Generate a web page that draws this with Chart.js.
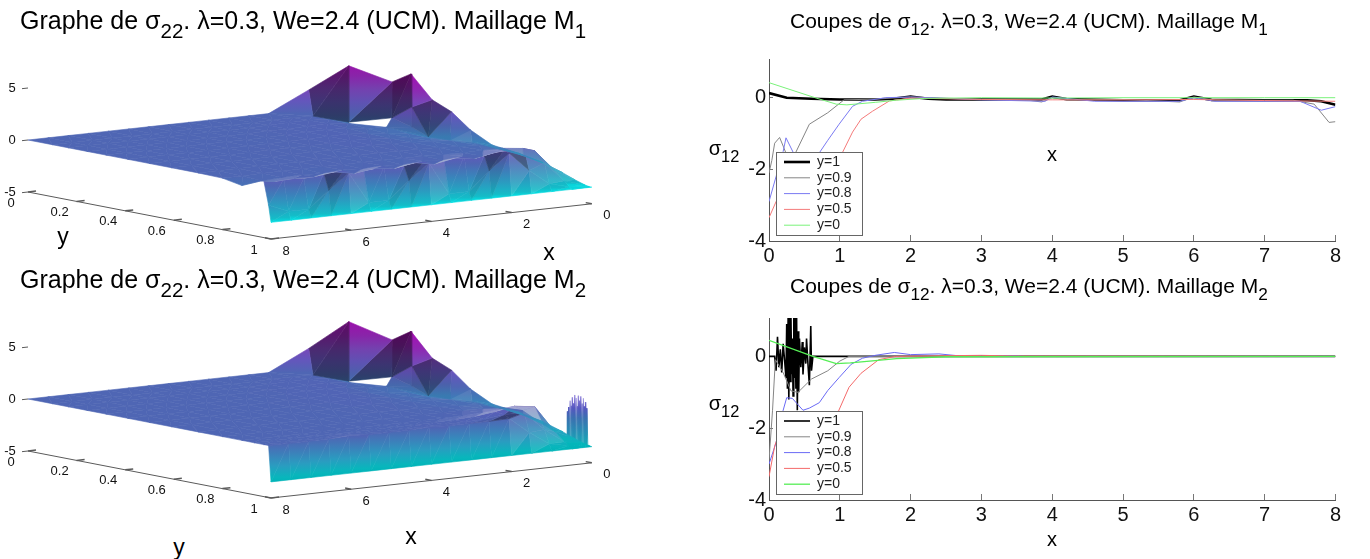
<!DOCTYPE html>
<html>
<head>
<meta charset="utf-8">
<title>Sigma plots</title>
<script src="https://cdn.jsdelivr.net/npm/chart.js@4"></script>
<style>
  html, body { margin: 0; padding: 0; background: #fff; width: 1370px; height: 559px; overflow: hidden; }
  body { position: relative; font-family: "Liberation Sans", Arial, sans-serif; color: #000; }
  canvas { position: absolute; }
  .txt { position: absolute; white-space: nowrap; line-height: 1; }
  .txt sub { font-size: 0.82em; vertical-align: -0.42em; line-height: 0; }
  .ctr { transform: translate(-50%, -50%); }
</style>
</head>
<body>
<canvas id="surf1" width="680" height="230" style="left:0;top:40px"></canvas>
<canvas id="surf2" width="680" height="230" style="left:0;top:299px"></canvas>
<canvas id="cut1" width="650" height="225" style="left:700px;top:40px"></canvas>
<canvas id="cut2" width="650" height="225" style="left:700px;top:299px"></canvas>

<div class="txt" style="left:20px;top:8px;font-size:25px">Graphe de <span>&sigma;</span><sub>22</sub>. &lambda;=0.3, We=2.4 (UCM). Maillage M<sub>1</sub></div>
<div class="txt" style="left:20px;top:267px;font-size:25px">Graphe de <span>&sigma;</span><sub>22</sub>. &lambda;=0.3, We=2.4 (UCM). Maillage M<sub>2</sub></div>
<div class="txt" style="left:790px;top:10px;font-size:21px">Coupes de <span>&sigma;</span><sub>12</sub>. &lambda;=0.3, We=2.4 (UCM). Maillage M<sub>1</sub></div>
<div class="txt" style="left:790px;top:275px;font-size:21px">Coupes de <span>&sigma;</span><sub>12</sub>. &lambda;=0.3, We=2.4 (UCM). Maillage M<sub>2</sub></div>
<div class="txt ctr" style="left:63px;top:236px;font-size:23px">y</div>
<div class="txt ctr" style="left:549px;top:252px;font-size:23px">x</div>
<div class="txt ctr" style="left:179px;top:547px;font-size:23px">y</div>
<div class="txt ctr" style="left:411px;top:536px;font-size:23px">x</div>
<div class="txt ctr" style="left:724px;top:148px;font-size:20px">&sigma;<sub>12</sub></div>
<div class="txt ctr" style="left:724px;top:403px;font-size:20px">&sigma;<sub>12</sub></div>
<div class="txt ctr" style="left:1052px;top:154px;font-size:20px">x</div>
<div class="txt ctr" style="left:1052px;top:539px;font-size:20px">x</div>

<script>
const _ = null;

// right column, cuts of sigma12, [x, value]
const cut1Y1 = [[0,.13],[.25,0],[.6,-.03],[1,-.05],[1.5,-.05],[1.75,-.03],[2,.03],[2.25,-.03],[2.5,-.05],[3,-.05],[3.5,-.05],[3.85,-.05],[4,.03],[4.2,-.04],[5,-.07],[5.8,-.07],[6,.03],[6.25,-.06],[7,-.07],[7.6,-.07],[7.8,-.1],[8,-.2]];
const cut1Y09 = [[0,-2.1],[.04,-1.75],[.08,-1.27],[.15,-1.11],[.2,-1.35],[.27,-1.7],[.36,-1.6],[.57,-.74],[.83,-.42],[1.06,-.06],[1.5,-.04],[2,.02],[3,-.05],[3.7,-.08],[3.85,-.12],[4,0],[4.3,-.07],[5,-.05],[5.8,-.12],[6,.02],[6.3,-.07],[7.4,-.07],[7.7,-.18],[7.91,-.69],[8,-.67]];
const cut1Y08 = [[0,-2.9],[.1,-2.2],[.2,-1.5],[.24,-1.12],[.36,-1.6],[.5,-1.9],[.69,-1.6],[.83,-1.19],[.99,-.74],[1.18,-.24],[1.32,-.1],[1.65,0],[2,.02],[3,-.06],[3.9,-.1],[4,.02],[4.6,-.1],[5.8,-.1],[6,0],[6.3,-.1],[7.5,-.1],[7.8,-.35],[8,-.25]];
const cut1Y05 = [[0,-3.35],[.1,-2.9],[.25,-2.5],[.5,-2.2],[.8,-1.9],[1.02,-1.6],[1.18,-.96],[1.3,-.6],[1.46,-.38],[1.7,-.09],[2,-.01],[3,-.05],[4,-.06],[5,-.06],[6,-.05],[7,-.08],[8,-.1]];
const cut1Y0 = [[0,.42],[.65,0],[.95,-.18],[1.1,-.2],[1.5,-.13],[1.8,-.07],[2.2,-.02],[3,0],[4,-.01],[5,0],[6,0],[7,0],[8,0]];

const cut2Y1 = [[0,0],[.08,0],[.1,-.4],[.12,.55],[.14,-.3],[.16,.2],[.18,-.45],[.2,.35],[.22,-.1],[.24,-.6],[.25,.9],[.26,-.9],[.27,1.1],[.28,-1.2],[.29,1.1],[.3,-.7],[.31,1.1],[.32,-.5],[.33,.5],[.34,-1.1],[.35,1.1],[.36,-.6],[.37,1.1],[.38,-.9],[.39,1.1],[.4,-1.5],[.41,.7],[.42,-1],[.43,.5],[.45,-.3],[.47,.4],[.48,-.5],[.5,.25],[.52,-.2],[.53,.5],[.55,-.2],[.57,-.8],[.59,.85],[.6,-.4],[.62,0],[.65,0],[8,0]];
const cut2Y09 = [[0,-2.9],[.05,-1.5],[.09,-.09],[.2,-.45],[.31,-.96],[.41,-1],[.6,-.63],[.83,-.4],[1,-.13],[1.13,0],[8,0]];
const cut2Y08 = [[0,-3],[.1,-2.4],[.2,-1.5],[.25,-1.15],[.33,-1.17],[.48,-1.5],[.57,-1.44],[.71,-1.29],[.83,-.95],[.99,-.59],[1.16,-.22],[1.32,-.05],[1.5,.03],[1.77,.11],[2,.05],[2.4,.07],[2.77,0],[3.43,.02],[3.6,0],[8,0]];
const cut2Y05 = [[0,-3.35],[.08,-2.5],[.24,-1.6],[.5,-1.9],[.8,-1.8],[.96,-1.62],[1.13,-.86],[1.3,-.47],[1.55,-.09],[1.79,0],[2.5,.02],[3,.03],[3.5,.01],[8,0]];
const cut2Y0 = [[0,.45],[.62,0],[.95,-.2],[1.15,-.18],[1.5,-.12],[1.8,-.06],[2.5,-.01],[8,0]];

const cutLabels = ["y=1", "y=0.9", "y=0.8", "y=0.5", "y=0"];
const cutXTicks = [0, 1, 2, 3, 4, 5, 6, 7, 8];
const cutYTicks = [-4, -2, 0];

// left column, sigma22 on a grid: one row per gridY, one value per gridX. null = no surface there
const gridX = [0, .5, 1, 1.5, 2, 2.5, 3, 3.5, 4, 4.5, 5, 5.5, 6, 6.5, 7, 7.5, 8];
const gridY = [0, .1, .165, .243, .32, .41, .5, .59, .7, .8, .88, .93, .97, .99, 1];
const zM1 = [
  [_,_,_,_,0,0,0,0,0,0,0,0,0,0,0,0,0],
  [_,_,_,0,.05,.05,0,0,0,0,0,0,0,0,0,0,0],
  [_,_,-.5,0,.1,.1,.05,0,0,0,0,0,0,0,0,0,0],
  [_,_,_,-.05,.15,.1,.05,.05,0,0,0,0,0,0,0,0,0],
  [_,_,-.3,-.2,.05,.1,.1,.05,0,0,0,0,0,0,0,0,0],
  [_,-1,-.45,-.3,-.05,.1,.1,.05,.05,0,0,0,0,0,0,0,0],
  [-.15,-.9,-.5,-.25,-.1,.05,.1,.05,.05,0,.05,0,0,0,0,0,0],
  [-1.2,-.7,-.35,-.2,-.1,0,.05,.05,0,.05,0,0,0,0,0,0,0],
  [-1.5,-.85,-.3,-.2,-.1,-.05,0,0,0,0,.05,0,0,0,0,0,0],
  [-1.95,-1.05,-.15,-.1,-.15,-.1,-.05,-.05,0,0,0,0,0,0,0,-.05,-.05],
  [-2.55,-1.4,.2,.25,-.1,.1,-.05,.05,-.1,.05,-.05,.05,-.1,0,-.05,-.15,-.4],
  [-3,-1.9,.2,.5,.5,.1,.35,0,.35,0,.2,-.05,.3,.05,.1,0,.35],
  [-3.3,-2.7,-.8,.8,.85,.6,.75,.55,.7,.45,.55,.4,.6,.58,.3,.42,.5],
  [-3.4,-3.2,-2.7,-1.2,.67,-.8,-2.6,-2.6,.57,-.9,-2.6,-2.6,.45,-1,-2.6,-2.6,-1.8],
  [-3.4,-3.4,-3.4,-3.4,-3.4,-3.4,-3.4,-3.4,-3.4,-3.4,-3.4,-3.4,-3.4,-3.4,-3.4,-3.4,-3.4]
];
const zM2 = [
  [_,_,_,_,0,0,0,0,0,0,0,0,0,0,0,0,0],
  [_,_,_,0,.05,.05,0,0,0,0,0,0,0,0,0,0,0],
  [_,_,-.5,0,.1,.1,.05,0,0,0,0,0,0,0,0,0,0],
  [_,_,_,-.05,.15,.1,.05,.05,0,0,0,0,0,0,0,0,0],
  [_,_,-.3,-.2,.05,.1,.1,.05,0,0,0,0,0,0,0,0,0],
  [_,-1,-.45,-.3,-.05,.1,.1,.05,.05,0,0,0,0,0,0,0,0],
  [-.15,-.9,-.5,-.25,-.1,.05,.1,.05,.05,0,0,0,0,0,0,0,0],
  [-1.2,-.7,-.35,-.2,-.1,0,.05,.05,0,0,0,0,0,0,0,0,0],
  [-1.5,-.85,-.3,-.2,-.1,-.05,0,0,0,0,0,0,0,0,0,0,0],
  [-1.95,-1.1,-.2,-.05,0,0,0,0,0,0,0,0,0,0,0,0,0],
  [-2.55,-1.6,-.1,.3,.15,.05,0,0,0,0,0,0,0,0,0,0,0],
  [-3,-2.1,.5,.75,.45,.2,.1,.05,.02,.02,0,0,0,0,0,0,0],
  [-3.3,-2.9,-1.5,.3,.35,.1,.05,.02,.05,0,0,0,.05,0,0,0,0],
  [-3.4,-3.2,-2.8,-1.5,.05,0,0,0,.08,0,0,0,.1,0,0,0,0],
  [-3.45,-3.45,-3.45,-3.45,-3.45,-3.45,-3.45,-3.45,-3.45,-3.45,-3.45,-3.45,-3.45,-3.45,-3.45,-3.45,-3.45]
];

// the peak at the back corner is a coarse mesh, not on the grid
const peakX = [2, 1, 0, 1.5, 1, 0, .56, 0, .55, .55, 0, .5, 1, 0, .5, 0];
const peakY = [0, 0, 0, .1, .165, .178, .27, .256, .35, .35, .343, .41, .32, .423, .5, .5];
const peakZ1 = [0, 1.85, 3.75, 0, -.5, 3, .2, 4.13, 1.6, -.33, 2.03, -1, -.3, 1.24, -.9, -.15];
const peakZ2 = [0, 1.9, 4.05, 0, -.5, 3.1, .2, 4.28, 1.6, -.33, 2.1, -1, -.3, 1.3, -.9, -.15];
const peakTris = [[0,1,3],[1,2,3],[3,2,4],[2,5,4],[5,6,4],[5,7,6],[7,8,6],[7,10,8],[8,10,11],[8,11,9],[6,8,9],[6,12,9],[9,11,12],[10,13,11],[13,14,11],[13,15,14]];
const peakShade = [1, .62, .58, .95, .6, .5, .55, 1, .62, .85, .9, .95, .95, .68, .95, 1];

// noise of the M2 surface at y=1
const spikeX = [.1,.12,.13,.15,.16,.18,.19,.21,.22,.24,.25,.27,.28,.3,.31,.33,.34,.36,.37,.39,.4,.42,.43,.45,.46,.48,.49,.51,.52,.54,.55,.57,.58,.6,.61];
const spikeZ = [-3.4,.3,-3.4,.9,-3.2,.5,-3.4,1.3,-3.4,.8,-3,1.5,-3.4,1.1,-3.1,1.6,-3.4,.6,-3.3,1.4,-3.4,1.7,-3,.9,-3.4,1.5,-3.2,.7,-3.4,1.2,-3.4,.6,-3.1,.2,-3.4];

const zAxisTicks = [5, 0, -5];
const yAxisTicks = [0, .2, .4, .6, .8, 1];
const xAxisTicks = [0, 2, 4, 6, 8];

const FONT = '"Liberation Sans", Arial, sans-serif';

// view of the 3d box onto the chart's two flat scales
function project(x, y, z) {
  const s = 8 - x;
  return { x: 28 + 40.1 * s + 243 * y, y: 100 - 4.4 * s + 47 * y - 10.4 * z };
}

function hex(c) { return [parseInt(c.slice(1, 3), 16), parseInt(c.slice(3, 5), 16), parseInt(c.slice(5, 7), 16)]; }

function colorStops(low, low2) {
  return [[-3.45, low], [-3.05, low2], [-2, "#2a9cc0"], [-1, "#3c80ba"], [0, "#4f66b4"], [1, "#6456bc"], [2, "#7a44b8"], [3, "#9026b2"], [4.3, "#a80cb4"]];
}

function shadeColor(c, shade, light) {
  const [r, g, b] = hex(c);
  const f = v => Math.round(Math.min(255, v * shade + (235 - v * shade) * light));
  return `rgb(${f(r)},${f(g)},${f(b)})`;
}

function colorAt(stops, z) {
  for (let i = 1; i < stops.length; i++) {
    if (z <= stops[i][0]) {
      const t = Math.max(0, (z - stops[i - 1][0]) / (stops[i][0] - stops[i - 1][0]));
      const a = hex(stops[i - 1][1]), b = hex(stops[i][1]);
      const m = a.map((v, k) => Math.round(v + (b[k] - v) * t));
      return "#" + m.map(v => v.toString(16).padStart(2, "0")).join("");
    }
  }
  return stops[stops.length - 1][1];
}

// gradient running from lowest to highest corner of a facet, through the scales
function facetFill(nodes, stops, shade, light) {
  let grad = null;
  const zs = nodes.map(n => n[2]);
  const zmin = Math.min(...zs), zmax = Math.max(...zs);
  return (c) => {
    if (zmax - zmin < .3 || !c.chart.chartArea) return shadeColor(colorAt(stops, (zmin + zmax) / 2), shade, light);
    if (grad) return grad;
    const sy = c.chart.scales.y;
    const ptsLow = nodes[zs.indexOf(zmin)], ptsHigh = nodes[zs.indexOf(zmax)];
    const y0 = sy.getPixelForValue(project(...ptsLow).y), y1 = sy.getPixelForValue(project(...ptsHigh).y);
    grad = c.chart.ctx.createLinearGradient(0, y0, 0, y1);
    grad.addColorStop(0, shadeColor(colorAt(stops, zmin), shade, light));
    stops.forEach(st => {
      if (st[0] > zmin && st[0] < zmax) grad.addColorStop((st[0] - zmin) / (zmax - zmin), shadeColor(st[1], shade, light));
    });
    grad.addColorStop(1, shadeColor(colorAt(stops, zmax), shade, light));
    return grad;
  };
}

function facetDataset(nodes, stops, shade, light) {
  const fillFn = facetFill(nodes, stops, shade, light);
  const pts = nodes.map(n => project(...n));
  pts.push(pts[0]);
  return { data: pts, showLine: true, fill: "shape", tension: 0, pointRadius: 0, borderWidth: .6, backgroundColor: fillFn, borderColor: fillFn };
}

// shading from the slope of a triangle on the grid
function slopeShade(a, b, c) {
  const ux = b[0] - a[0], uy = b[1] - a[1], uz = b[2] - a[2];
  const vx = c[0] - a[0], vy = c[1] - a[1], vz = c[2] - a[2];
  const nz = ux * vy - uy * vx;
  if (Math.abs(nz) < 1e-9) return [1, 0];
  const dzdx = (uz * vy - uy * vz) / nz, dzdy = (ux * vz - uz * vx) / nz;
  const mean = (a[2] + b[2] + c[2]) / 3;
  let shade = 1, light = 0;
  if (dzdy > 1) light = Math.min(.5, (dzdy - 1) / 14);
  if (dzdy < -3 && mean > 0) shade = 1 - Math.min(.35, (-dzdy - 3) / 30);
  if (dzdx > 2) light = Math.max(light, .12);
  if (dzdx < -2) shade *= .92;
  return [shade, light];
}

function gridFacets(z, stops) {
  const out = [];
  for (let j = 0; j < gridY.length - 1; j++) {
    for (let i = 0; i < gridX.length - 1; i++) {
      const node = (a, b) => z[b][a] === null ? null : [gridX[a], gridY[b], z[b][a]];
      const a = node(i, j), b = node(i + 1, j), c = node(i, j + 1), d = node(i + 1, j + 1);
      let tris = [];
      if (a && b && c && d) tris = [[a, b, d], [a, d, c]];
      else if (!a && b && c && d) tris = [[b, d, c]];
      else if (a && !b && c && d) tris = [[a, d, c]];
      else if (a && b && !c && d) tris = [[a, b, d]];
      else if (a && b && c && !d) tris = [[a, b, c]];
      tris.forEach(t => {
        const [sh, li] = slopeShade(...t);
        out.push(facetDataset(t, stops, sh, li));
      });
    }
  }
  return out;
}

function axisLine(pts, width) {
  return { data: pts.map(p => project(...p)), showLine: true, fill: false, tension: 0, pointRadius: 0, borderWidth: width || 1, borderColor: "#5a5a5a" };
}

// tick numbers of the 3d box, placed through the scales
const boxLabels = {
  id: "boxLabels",
  afterDraw(chart) {
    const { ctx, scales: { x: sx, y: sy } } = chart;
    const put = (t, p, dx, dy) => ctx.fillText(t, sx.getPixelForValue(p.x) + dx, sy.getPixelForValue(p.y) + dy);
    ctx.save();
    ctx.fillStyle = "#111";
    ctx.font = "13px " + FONT;
    ctx.textAlign = "center";
    ctx.textBaseline = "middle";
    zAxisTicks.forEach(v => put(String(v), project(8, 0, v), v < 0 ? -18 : -16, 0));
    yAxisTicks.forEach(v => put(String(v), project(8, v, -5), -17, 11));
    xAxisTicks.forEach(v => put(String(v), project(v, 1, -5), 15, 12));
    ctx.restore();
  }
};

function makeSurface(id, z, peakZ, low, low2, withSpikes) {
  const stops = colorStops(low, low2);
  const datasets = [];
  // box axes and their small ticks
  datasets.push(axisLine([[8, 0, -5], [8, 1, -5], [0, 1, -5]]));
  zAxisTicks.forEach(v => datasets.push(axisLine([[8, 0, v], [8.15, 0, v]])));
  yAxisTicks.forEach(v => datasets.push(axisLine([[8, v, -5], [7.8, v, -5]], 1.5)));
  xAxisTicks.forEach(v => datasets.push(axisLine([[v, 1, -5], [v, .975, -5]], 1.5)));

  peakTris.forEach((t, k) => {
    const nodes = t.map(i => [peakX[i], peakY[i], peakZ[i]]);
    datasets.push(facetDataset(nodes, stops, peakShade[k], 0));
  });
  datasets.push(...gridFacets(z, stops));
  // the dark slit in front of the peak
  datasets.push({ data: [project(.5, .5, -.9), project(0, .5, -.15)], showLine: true, fill: false, pointRadius: 0, borderWidth: 2.2, borderColor: "#26406a" });

  if (withSpikes) {
    const base = spikeX.map((x, i) => [x, 1, spikeZ[i]]);
    datasets.push({ data: base.map(n => project(...n)), showLine: true, fill: false, tension: 0, pointRadius: 0, borderWidth: .9,
      borderColor: (c) => {
        if (!c.chart.chartArea) return "#3c80ba";
        const sy = c.chart.scales.y;
        const g = c.chart.ctx.createLinearGradient(0, sy.getPixelForValue(project(.3, 1, -3.4).y), 0, sy.getPixelForValue(project(.3, 1, 1.7).y));
        g.addColorStop(0, "#0fb0b8");
        g.addColorStop(.55, "#3a70b0");
        g.addColorStop(.75, "rgba(80,80,190,.75)");
        g.addColorStop(1, "rgba(130,110,215,.35)");
        return g;
      } });
  }

  return new Chart(document.getElementById(id), {
    type: "scatter",
    data: { datasets },
    options: {
      responsive: false,
      animation: false,
      events: [],
      layout: { padding: 0 },
      plugins: { legend: { display: false }, tooltip: { enabled: false } },
      scales: {
        x: { type: "linear", min: 0, max: 680, display: false },
        y: { type: "linear", min: 0, max: 230, reverse: true, display: false }
      }
    },
    plugins: [boxLabels]
  });
}

// line legend in a box inside the plot, like the matlab one
const boxLegend = {
  id: "boxLegend",
  afterDatasetsDraw(chart, args, opts) {
    const { ctx } = chart;
    ctx.save();
    ctx.fillStyle = "#fff";
    ctx.fillRect(opts.left, opts.top, opts.width, opts.height);
    ctx.strokeStyle = "#666";
    ctx.lineWidth = 1;
    ctx.strokeRect(opts.left + .5, opts.top + .5, opts.width, opts.height);
    ctx.font = "14px " + FONT;
    ctx.textBaseline = "middle";
    ctx.textAlign = "left";
    chart.data.datasets.forEach((d, i) => {
      const yy = opts.top + opts.first + i * opts.step;
      ctx.strokeStyle = d.borderColor;
      ctx.lineWidth = d.legendWidth || d.borderWidth;
      ctx.beginPath();
      ctx.moveTo(opts.left + 8, yy);
      ctx.lineTo(opts.left + 34, yy);
      ctx.stroke();
      ctx.fillStyle = "#222";
      ctx.fillText(d.label, opts.left + 41, yy);
    });
    ctx.restore();
  }
};

function makeCut(id, series, widths, colors, yMax, legendPos) {
  const datasets = series.map((s, i) => ({
    label: cutLabels[i],
    data: s.map(p => ({ x: p[0], y: p[1] })),
    borderColor: colors[i],
    borderWidth: widths[i],
    pointRadius: 0,
    tension: 0,
    order: series.length - i
  }));
  return new Chart(document.getElementById(id), {
    type: "line",
    data: { datasets },
    options: {
      responsive: false,
      animation: false,
      events: [],
      layout: { padding: { top: legendPos.padTop, right: 12, left: 0, bottom: 0 } },
      plugins: { legend: { display: false }, tooltip: { enabled: false }, boxLegend: legendPos },
      scales: {
        x: {
          type: "linear", min: 0, max: 8,
          afterBuildTicks: (s) => { s.ticks = cutXTicks.map(v => ({ value: v })); },
          afterFit: (s) => { s.height = 24; },
          grid: { drawOnChartArea: false, tickLength: -6, color: "#777" },
          border: { color: "#555" },
          ticks: { font: { size: 20, family: FONT }, color: "#111", padding: 9, maxRotation: 0 }
        },
        y: {
          type: "linear", min: -4, max: yMax,
          afterBuildTicks: (s) => { s.ticks = cutYTicks.map(v => ({ value: v })); },
          afterFit: (s) => { s.width = 69; },
          grid: { drawOnChartArea: false, tickLength: -4, color: "#777" },
          border: { color: "#555" },
          ticks: { font: { size: 20, family: FONT }, color: "#111", padding: 7 }
        }
      }
    },
    plugins: [boxLegend]
  });
}

makeSurface("surf1", zM1, peakZ1, "#00e6e8", "#14bcc8", false);
makeSurface("surf2", zM2, peakZ2, "#00b4b8", "#08b6bc", true);

makeCut("cut1", [cut1Y1, cut1Y09, cut1Y08, cut1Y05, cut1Y0], [2.6, 1, 1, 1, 1],
  ["#000000", "#858585", "#7a7af2", "#f47a7a", "#7af27a"], 1.08,
  { padTop: 12, left: 76, top: 112, width: 86, height: 83, first: 10, step: 15.8 });
makeCut("cut2", [cut2Y1, cut2Y09, cut2Y08, cut2Y05, cut2Y0], [1.6, 1, 1, 1, 1.3],
  ["#000000", "#858585", "#6a6af5", "#f46a6a", "#55ee55"], 1.07,
  { padTop: 13, left: 76, top: 112, width: 86, height: 83, first: 10, step: 15.8 });
</script>
</body>
</html>
